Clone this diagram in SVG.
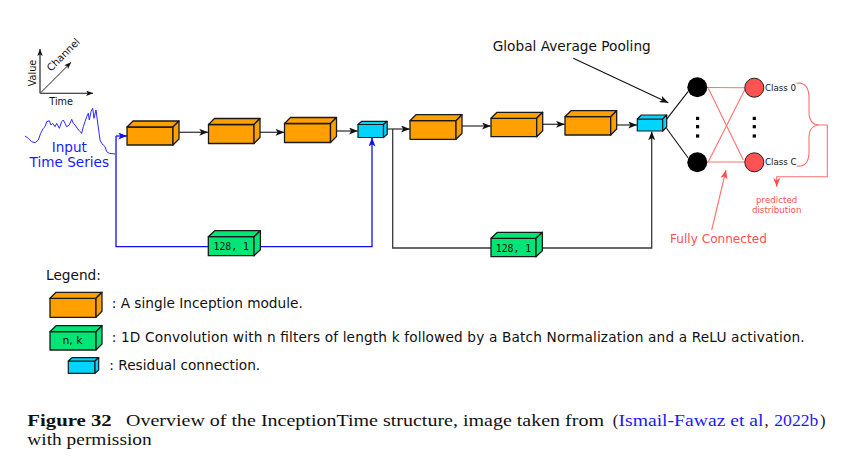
<svg xmlns="http://www.w3.org/2000/svg" width="862" height="467" viewBox="0 0 862 467">
<style>
.sans{font-family:"DejaVu Sans","Liberation Sans",sans-serif;}
.mono{font-family:"DejaVu Sans Mono","Liberation Mono",monospace;}
.serif{font-family:"Liberation Serif","DejaVu Serif",serif;}
.org{fill:#ffa000;stroke:#1a1a1a;stroke-width:1.3;stroke-linejoin:round;}
.cyn{fill:#00d4ff;stroke:#1a1a1a;stroke-width:1.2;stroke-linejoin:round;}
.grn{fill:#00e676;stroke:#1a1a1a;stroke-width:1.3;stroke-linejoin:round;}
.ln{fill:none;stroke:#3a3a3a;stroke-width:1.3;}
.blue{fill:none;stroke:#1010ee;stroke-width:1.3;}
.red{fill:none;stroke:#ff7070;stroke-width:1.1;}
.txt{font-size:13.7px;fill:#111;}
</style>
<defs>
<marker id="ah" viewBox="0 0 10 8" refX="10" refY="4" markerWidth="9" markerHeight="7" orient="auto" markerUnits="userSpaceOnUse"><path d="M0,0 L10,4 L0,8 L2.5,4 z" fill="#111"/></marker>
<marker id="ahb" viewBox="0 0 10 8" refX="10" refY="4" markerWidth="9" markerHeight="7" orient="auto" markerUnits="userSpaceOnUse"><path d="M0,0 L10,4 L0,8 L2.5,4 z" fill="#1010ee"/></marker>
<marker id="ahr" viewBox="0 0 10 8" refX="10" refY="4" markerWidth="9" markerHeight="7" orient="auto" markerUnits="userSpaceOnUse"><path d="M0,0 L10,4 L0,8 L2.5,4 z" fill="#ff4d4d"/></marker>
<marker id="ahs" viewBox="0 0 10 8" refX="10" refY="4" markerWidth="7" markerHeight="5.5" orient="auto" markerUnits="userSpaceOnUse"><path d="M0,0 L10,4 L0,8 L2.5,4 z" fill="#111"/></marker>
</defs>
<rect width="862" height="467" fill="#fff"/>

<!-- axes icon -->
<g id="axes">
<line x1="40" y1="93.3" x2="40" y2="49" stroke="#111" stroke-width="1.1" marker-end="url(#ahs)"/>
<line x1="40" y1="93.3" x2="93" y2="93.3" stroke="#111" stroke-width="1.1" marker-end="url(#ahs)"/>
<line x1="40" y1="93.3" x2="71" y2="62.3" stroke="#666" stroke-width="1.1" marker-end="url(#ahs)"/>
<text class="sans" x="36" y="73" font-size="9.7" text-anchor="middle" transform="rotate(-90 36 73)" fill="#111">Value</text>
<text class="sans" x="51" y="72" font-size="10.2" transform="rotate(-45 51 72)" fill="#111">Channel</text>
<text class="sans" x="49.3" y="105" font-size="9.7" fill="#111">Time</text>
</g>

<!-- input time series -->
<g id="input">
<polyline fill="none" stroke="#2a2aff" stroke-width="1" points="25,136 28.3,138.3 31.7,141.7 35,142.7 38.3,140 40.7,133.3 43.3,128.3 45,126.7 46.7,121.7 49.3,120.7 51,125 52.7,123.3 55,126.7 56.7,123.3 59.3,128.3 61.7,121.7 63.3,120 65,123.3 66.7,126.7 69.3,125 71.7,119.3 73.3,123.3 75,125 77.3,128.3 80,131.7 81.7,133.3 83.3,126.7 85,121.7 86.7,116.7 88.3,113.3 89.3,120 91,111.7 92.7,108.3 94,118.3 96,110 97.3,120 98.7,130 100,140 101.7,143.3 103.3,145 105,146.7 106.7,151.7 109.3,153.3 115,154"/>
<text class="sans" x="69.3" y="151.7" font-size="13.6" text-anchor="middle" fill="#1a1aff">Input</text>
<text class="sans" x="69.3" y="166.7" font-size="13.6" text-anchor="middle" fill="#1a1aff">Time Series</text>
</g>

<!-- connectors -->
<g id="connectors">
<polyline class="blue" points="116,136 127,136" marker-end="url(#ahb)"/>
<polyline class="blue" points="116,136 116,246.7 372,246.7 372,137.8" marker-end="url(#ahb)"/>
<line class="ln" x1="179.3" y1="132.3" x2="208" y2="132.3" marker-end="url(#ah)"/>
<line class="ln" x1="260" y1="132.3" x2="284.3" y2="132.3" marker-end="url(#ah)"/>
<line class="ln" x1="336.7" y1="131" x2="357.8" y2="131" marker-end="url(#ah)"/>
<line class="ln" x1="387.3" y1="129" x2="409.8" y2="129" marker-end="url(#ah)"/>
<polyline class="ln" points="392.7,129 392.7,248 651.7,248 651.7,131.5" marker-end="url(#ah)"/>
<line class="ln" x1="461.7" y1="126" x2="490.8" y2="126" marker-end="url(#ah)"/>
<line class="ln" x1="542.7" y1="124.3" x2="564.8" y2="124.3" marker-end="url(#ah)"/>
<line class="ln" x1="616.7" y1="125" x2="637" y2="125" marker-end="url(#ah)"/>
<line x1="573.3" y1="58.3" x2="668.3" y2="102.7" stroke="#111" stroke-width="1.1" marker-end="url(#ah)"/>
<line x1="666.5" y1="119.3" x2="688" y2="91.7" stroke="#111" stroke-width="1.1"/>
<line x1="666.5" y1="128.3" x2="688" y2="157.7" stroke="#111" stroke-width="1.1"/>
<line class="red" x1="707" y1="87.5" x2="745" y2="87.7"/>
<line class="red" x1="707" y1="162" x2="745" y2="162"/>
<line class="red" x1="708.3" y1="88.3" x2="743.3" y2="160"/>
<line class="red" x1="708.3" y1="161.7" x2="745" y2="89.3"/>
<line class="red" x1="711.7" y1="230" x2="726" y2="170" marker-end="url(#ahr)"/>
<path class="red" d="M796.7,83.3 C805,82 809,88 809,98 L809,112 C809,121 813,125 820,125 C813,125 809,129 809,138 L809,152 C809,162 805,167 796.7,166"/>
<polyline class="red" points="820,125 827.3,125 827.3,176.7 776.7,176.7 776.7,186.7" marker-end="url(#ahr)"/>
</g>

<!-- inception modules -->
<g id="inception1"><rect class="org" x="127" y="127" width="46" height="18"/><path class="org" d="M127,127 l6,-6 h46 l-6,6 z"/><path class="org" d="M173,127 l6,-6 v18 l-6,6 z"/></g>
<g id="inception2"><rect class="org" x="208.5" y="124.5" width="45.5" height="19"/><path class="org" d="M208.5,124.5 l6,-6 h45.5 l-6,6 z"/><path class="org" d="M254,124.5 l6,-6 v19 l-6,6 z"/></g>
<g id="inception3"><rect class="org" x="284.5" y="123.5" width="46" height="19"/><path class="org" d="M284.5,123.5 l6,-6 h46 l-6,6 z"/><path class="org" d="M330.5,123.5 l6,-6 v19 l-6,6 z"/></g>
<g id="residual1"><rect class="cyn" x="358" y="124.5" width="25.5" height="13"/><path class="cyn" d="M358,124.5 l3.7,-3.2 h25.5 l-3.7,3.2 z"/><path class="cyn" d="M383.5,124.5 l3.7,-3.2 v13 l-3.7,3.2 z"/></g>
<g id="inception4"><rect class="org" x="410" y="120.7" width="46" height="18.6"/><path class="org" d="M410,120.7 l6,-6 h46 l-6,6 z"/><path class="org" d="M456,120.7 l6,-6 v18.6 l-6,6 z"/></g>
<g id="inception5"><rect class="org" x="491" y="118.3" width="45.7" height="18.4"/><path class="org" d="M491,118.3 l6,-6 h45.7 l-6,6 z"/><path class="org" d="M536.7,118.3 l6,-6 v18.4 l-6,6 z"/></g>
<g id="inception6"><rect class="org" x="565" y="116.7" width="45.7" height="18.3"/><path class="org" d="M565,116.7 l6,-6 h45.7 l-6,6 z"/><path class="org" d="M610.7,116.7 l6,-6 v18.3 l-6,6 z"/></g>
<g id="residual2"><rect class="cyn" x="637.3" y="119" width="25.4" height="12"/><path class="cyn" d="M637.3,119 l4,-4 h25.4 l-4,4 z"/><path class="cyn" d="M662.7,119 l4,-4 v12 l-4,4 z"/></g>

<!-- bottleneck convs -->
<g id="conv1"><rect class="grn" x="208.3" y="236.7" width="45.7" height="19"/><path class="grn" d="M208.3,236.7 l6.4,-6 h45.7 l-6.4,6 z"/><path class="grn" d="M254,236.7 l6.4,-6 v19 l-6.4,6 z"/><text class="mono" x="231.2" y="250" font-size="9.8" text-anchor="middle" fill="#111">128, 1</text></g>
<g id="conv2"><rect class="grn" x="491" y="238.3" width="45" height="18.4"/><path class="grn" d="M491,238.3 l6.4,-6 h45 l-6.4,6 z"/><path class="grn" d="M536,238.3 l6.4,-6 v18.4 l-6.4,6 z"/><text class="mono" x="513.5" y="251.5" font-size="9.8" text-anchor="middle" fill="#111">128, 1</text></g>

<!-- GAP label -->
<g id="gap-label"><text class="sans txt" x="492.7" y="50.7">Global Average Pooling</text></g>

<!-- fully connected -->
<g id="fc-hidden">
<circle cx="697.3" cy="87.3" r="10" fill="#000"/>
<circle cx="697.3" cy="162.3" r="10" fill="#000"/>
<rect x="696" y="116.8" width="3.2" height="3.2" fill="#000"/>
<rect x="696" y="125.1" width="3.2" height="3.2" fill="#000"/>
<rect x="696" y="134.4" width="3.2" height="3.2" fill="#000"/>
</g>
<g id="fc-output">
<circle cx="754.3" cy="87.7" r="9.5" fill="#ff5252" stroke="#222" stroke-width="1"/>
<circle cx="754.3" cy="162.3" r="9.5" fill="#ff5252" stroke="#222" stroke-width="1"/>
<rect x="752.7" y="116.8" width="3.2" height="3.2" fill="#000"/>
<rect x="752.7" y="125.1" width="3.2" height="3.2" fill="#000"/>
<rect x="752.7" y="134.4" width="3.2" height="3.2" fill="#000"/>
<text class="sans" x="765" y="90.9" font-size="8.7" fill="#111">Class 0</text>
<text class="sans" x="765" y="165.2" font-size="8.7" fill="#111">Class C</text>
</g>
<g id="fc-labels">
<text class="sans" x="776.7" y="202.7" font-size="8.7" text-anchor="middle" fill="#ff5050">predicted</text>
<text class="sans" x="776.7" y="213.3" font-size="8.7" text-anchor="middle" fill="#ff5050">distribution</text>
<text class="sans" x="670" y="243.3" font-size="12.1" fill="#ff5050">Fully Connected</text>
</g>

<!-- legend -->
<g id="legend">
<text class="sans txt" x="46" y="280">Legend:</text>
<rect class="org" x="50" y="298.3" width="46" height="19"/><path class="org" d="M50,298.3 l6,-6 h46 l-6,6 z"/><path class="org" d="M96,298.3 l6,-6 v19 l-6,6 z"/>
<text class="sans txt" x="111.7" y="308.3">: A single Inception module.</text>
<rect class="grn" x="50" y="331.7" width="46" height="18.3"/><path class="grn" d="M50,331.7 l6,-6 h46 l-6,6 z"/><path class="grn" d="M96,331.7 l6,-6 v18.3 l-6,6 z"/>
<text class="sans" x="72.5" y="344.3" font-size="10.8" text-anchor="middle" fill="#111">n, k</text>
<text class="sans txt" x="111.7" y="341.7" textLength="693" lengthAdjust="spacing">: 1D Convolution with n filters of length k followed by a Batch Normalization and a ReLU activation.</text>
<rect class="cyn" x="68.3" y="361" width="26.7" height="12.3"/><path class="cyn" d="M68.3,361 l3.7,-3.3 h26.7 l-3.7,3.3 z"/><path class="cyn" d="M95,361 l3.7,-3.3 v12.3 l-3.7,3.3 z"/>
<text class="sans txt" x="109.3" y="370">: Residual connection.</text>
</g>

<!-- caption -->
<g id="caption" class="serif" font-size="16.5" fill="#111">
<text x="27.3" y="426" font-weight="bold" textLength="84.4" lengthAdjust="spacingAndGlyphs">Figure 32</text>
<text x="126" y="426" textLength="478" lengthAdjust="spacingAndGlyphs">Overview of the InceptionTime structure, image taken from</text>
<text x="612.7" y="426">(</text>
<text x="618.5" y="426" fill="#1a1aff" textLength="145" lengthAdjust="spacingAndGlyphs">Ismail-Fawaz et al</text>
<text x="764.5" y="426">,</text>
<text x="774.3" y="426" fill="#1a1aff" textLength="44" lengthAdjust="spacingAndGlyphs">2022b</text>
<text x="820" y="426">)</text>
<text x="27.3" y="445" textLength="124.4" lengthAdjust="spacingAndGlyphs">with permission</text>
</g>
</svg>
